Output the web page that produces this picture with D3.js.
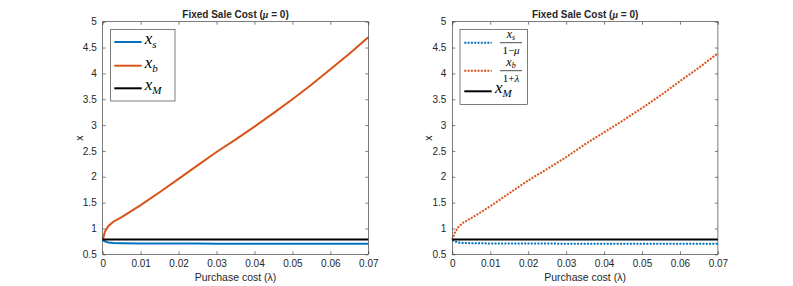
<!DOCTYPE html>
<html>
<head>
<meta charset="utf-8">
<script src="https://cdn.jsdelivr.net/npm/d3@7"></script>
<style>
  body { margin: 0; background: #fff; }
  svg text { font-family: "Liberation Sans", Arial, sans-serif; fill: #262626; }
  .math { font-family: "Liberation Serif", "DejaVu Serif", serif; font-style: italic; fill: #000; }
  .mathup { font-family: "Liberation Serif", "DejaVu Serif", serif; fill: #000; }
</style>
</head>
<body>
<svg id="chart" width="793" height="286"></svg>
<script>
// purchase cost grid (lambda)
const lambda = [0, 0.0006, 0.0015, 0.0028, 0.005, 0.01, 0.015, 0.02, 0.025, 0.03,
                0.035, 0.04, 0.045, 0.05, 0.055, 0.06, 0.065, 0.07];
// left panel
const xS = [0.78, 0.75, 0.73, 0.72, 0.715, 0.71, 0.71, 0.708, 0.707, 0.706,
            0.706, 0.706, 0.706, 0.706, 0.706, 0.705, 0.705, 0.705];
const xB = [0.78, 0.94, 1.05, 1.13, 1.22, 1.45, 1.70, 1.96, 2.22, 2.48,
            2.72, 2.97, 3.23, 3.50, 3.78, 4.08, 4.38, 4.70];
// right panel (scaled)
const xSScaled = [0.78, 0.75, 0.73, 0.72, 0.715, 0.71, 0.71, 0.708, 0.707, 0.706,
                  0.706, 0.706, 0.706, 0.706, 0.706, 0.705, 0.705, 0.705];
const xBScaled = [0.78, 0.91, 1.02, 1.11, 1.20, 1.43, 1.68, 1.93, 2.15, 2.38,
                  2.63, 2.86, 3.09, 3.33, 3.58, 3.85, 4.11, 4.39];
// market value, flat
const lambdaM = [0, 0.07];
const xM = [0.785, 0.785];

const xTicks = [0, 0.01, 0.02, 0.03, 0.04, 0.05, 0.06, 0.07];
const yTicks = [0.5, 1, 1.5, 2, 2.5, 3, 3.5, 4, 4.5, 5];

const blue = "#0072BD", orange = "#D95319";

const svg = d3.select("#chart");

function panel(left, series, legendKind) {
  const top = 21.7, bottom = 254.3, w = 265.6;
  const x = d3.scaleLinear().domain([0, 0.07]).range([left, left + w]);
  const y = d3.scaleLinear().domain([0.5, 5]).range([bottom, top]);
  const g = svg.append("g");

  const line = d3.line().x(d => x(d[0])).y(d => y(d[1]));
  series.forEach(s => {
    g.append("path")
      .datum(s.xs.map((v, i) => [v, s.ys[i]]))
      .attr("d", line)
      .attr("fill", "none")
      .attr("stroke", s.color)
      .attr("stroke-width", 2)
      .attr("stroke-dasharray", s.dotted ? "2,1.3" : null);
  });

  // axes: ticks inside on all four sides
  const fmt = d => d3.format("")(+d.toFixed(2));
  g.append("g").attr("transform", `translate(0,${bottom})`)
    .call(d3.axisBottom(x).tickValues(xTicks).tickSizeInner(-3).tickSizeOuter(0).tickPadding(6).tickFormat(fmt));
  g.append("g").attr("transform", `translate(0,${top})`)
    .call(d3.axisTop(x).tickValues(xTicks).tickSizeInner(-3).tickSizeOuter(0).tickFormat(""));
  g.append("g").attr("transform", `translate(${left},0)`)
    .call(d3.axisLeft(y).tickValues(yTicks).tickSizeInner(-3).tickSizeOuter(0).tickPadding(6).tickFormat(d3.format("")));
  g.append("g").attr("transform", `translate(${left + w},0)`)
    .call(d3.axisRight(y).tickValues(yTicks).tickSizeInner(-3).tickSizeOuter(0).tickFormat(""));
  g.selectAll(".tick line").attr("stroke", "#262626").attr("stroke-width", 0.6);
  g.selectAll(".domain").remove();
  g.selectAll(".tick text").attr("font-size", 10).attr("fill", "#262626")
    .attr("font-family", "Liberation Sans, Arial, sans-serif");
  g.append("rect").attr("x", left).attr("y", top).attr("width", w).attr("height", bottom - top)
    .attr("fill", "none").attr("stroke", "#262626").attr("stroke-width", 0.6);

  // title and labels
  g.append("text").attr("x", left + w / 2).attr("y", 18).attr("text-anchor", "middle")
    .attr("font-size", 10).attr("font-weight", "bold").attr("fill", "#000")
    .html("Fixed Sale Cost (<tspan font-style='italic' font-family='Liberation Serif, serif'>μ</tspan> = 0)");
  g.append("text").attr("x", left + w / 2).attr("y", 281).attr("text-anchor", "middle")
    .attr("font-size", 10.5).text("Purchase cost (λ)");
  g.append("text").attr("transform", `translate(${left - 20},${(top + bottom) / 2}) rotate(-90)`)
    .attr("text-anchor", "middle").attr("font-size", 10.5).text("x");

  // legend
  const lg = g.append("g");
  if (legendKind === "plain") {
    const lx = left + 8, ly = 29.3;
    lg.append("rect").attr("x", lx).attr("y", ly).attr("width", 64.3).attr("height", 71.7)
      .attr("fill", "#fff").attr("stroke", "#262626").attr("stroke-width", 0.6);
    const rows = [["s", blue, 42], ["b", orange, 65.7], ["M", "#000", 88.3]];
    rows.forEach(([sub, c, cy]) => {
      lg.append("line").attr("x1", lx + 3.6).attr("x2", lx + 31).attr("y1", cy).attr("y2", cy)
        .attr("stroke", c).attr("stroke-width", 2);
      const t = lg.append("text").attr("class", "math").attr("x", lx + 34).attr("y", cy + 2)
        .attr("font-size", 17);
      t.append("tspan").text("x");
      t.append("tspan").attr("font-size", 11).attr("dy", 4).text(sub);
    });
  } else {
    const lx = left + 7.7, ly = 29.3;
    lg.append("rect").attr("x", lx).attr("y", ly).attr("width", 67.3).attr("height", 75)
      .attr("fill", "#fff").attr("stroke", "#262626").attr("stroke-width", 0.6);
    const fracs = [["s", "1−μ", blue, 42.7], ["b", "1+λ", orange, 70.7]];
    fracs.forEach(([sub, den, c, cy]) => {
      lg.append("line").attr("x1", lx + 4.3).attr("x2", lx + 31.7).attr("y1", cy).attr("y2", cy)
        .attr("stroke", c).attr("stroke-width", 2).attr("stroke-dasharray", "2,1.3");
      const fx = lx + 51;
      lg.append("line").attr("x1", fx - 11).attr("x2", fx + 11).attr("y1", cy).attr("y2", cy)
        .attr("stroke", "#000").attr("stroke-width", 0.7);
      const num = lg.append("text").attr("class", "math").attr("x", fx).attr("y", cy - 4.5)
        .attr("text-anchor", "middle").attr("font-size", 12);
      num.append("tspan").text("x");
      num.append("tspan").attr("font-size", 8).attr("dy", 1.5).text(sub);
      const d = lg.append("text").attr("class", "mathup").attr("x", fx).attr("y", cy + 11)
        .attr("text-anchor", "middle").attr("font-size", 11);
      d.append("tspan").text(den.slice(0, 2));
      d.append("tspan").attr("font-style", "italic").text(den.slice(2));
    });
    const cy = 91.3;
    lg.append("line").attr("x1", lx + 4.3).attr("x2", lx + 31.7).attr("y1", cy).attr("y2", cy)
      .attr("stroke", "#000").attr("stroke-width", 2);
    const t = lg.append("text").attr("class", "math").attr("x", lx + 35).attr("y", cy + 2)
      .attr("font-size", 17);
    t.append("tspan").text("x");
    t.append("tspan").attr("font-size", 11).attr("dy", 4).text("M");
  }
}

panel(102.7, [
  { xs: lambda, ys: xS, color: blue },
  { xs: lambda, ys: xB, color: orange },
  { xs: lambdaM, ys: xM, color: "#000" }
], "plain");

panel(452.3, [
  { xs: lambda, ys: xSScaled, color: blue, dotted: true },
  { xs: lambda, ys: xBScaled, color: orange, dotted: true },
  { xs: lambdaM, ys: xM, color: "#000" }
], "frac");
</script>
</body>
</html>
